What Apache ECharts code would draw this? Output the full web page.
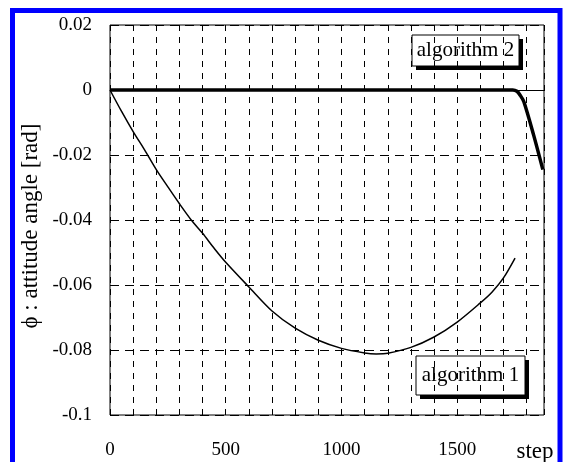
<!DOCTYPE html>
<html>
<head>
<meta charset="utf-8">
<script src="https://cdn.jsdelivr.net/npm/echarts@6/dist/echarts.min.js"></script>
<style>
    html, body { margin: 0; padding: 0; background: #fff; }
    #chart { width: 566px; height: 462px; }
</style>
</head>
<body>
<div id="chart"></div>
<script>
const steps1 = [0, 50, 100, 150, 200, 250, 300, 350, 400, 450, 500, 600, 700, 800, 900, 1000, 1100, 1150, 1200, 1300, 1400, 1500, 1600, 1650, 1700, 1750];
const phi1 = [0, -0.0066, -0.0128, -0.0185, -0.0245, -0.0298, -0.0350, -0.0399, -0.0441, -0.0487, -0.0530, -0.0606, -0.0680, -0.0733, -0.0770, -0.0795, -0.0809, -0.0812, -0.0810, -0.0792, -0.0760, -0.0714, -0.0655, -0.0622, -0.0578, -0.0517];

const steps2 = [0, 500, 1000, 1500, 1740, 1758, 1772, 1788, 1830, 1870];
const phi2 = [0, 0, 0, 0, 0, -0.0004, -0.0016, -0.0036, -0.0138, -0.0245];

const xLabels = [0, 500, 1000, 1500];

const FONT = '"Liberation Serif", "Times New Roman", serif';

function toPairs(xs, ys) {
    return xs.map((x, i) => [x, ys[i]]);
}

function labelBox(x, y, w, h, text) {
    return {
        type: "group",
        children: [
            { type: "rect", shape: { x: x + 4, y: y + 4, width: w, height: h }, style: { fill: "#000" } },
            { type: "rect", shape: { x, y, width: w, height: h }, style: { fill: "#fff", stroke: "#000", lineWidth: 1 } },
            {
                type: "text",
                x: x + w / 2,
                y: y + h / 2,
                style: { text, align: "center", verticalAlign: "middle", font: `21px ${FONT}`, fill: "#000" }
            }
        ]
    };
}

const chart = echarts.init(document.getElementById("chart"));

chart.setOption({
    animation: false,
    grid: {
        left: 110,
        top: 25,
        right: 22,
        bottom: 47,
        show: true,
        borderColor: "#000",
        borderWidth: 1
    },
    xAxis: {
        type: "value",
        min: 0,
        max: 1875,
        interval: 100,
        axisLine: { show: false },
        axisTick: { show: false },
        axisLabel: {
            margin: 26,
            color: "#000",
            fontFamily: FONT,
            fontSize: 19,
            showMaxLabel: false,
            formatter: v => xLabels.includes(v) ? String(v) : ""
        },
        splitLine: {
            show: true,
            lineStyle: { color: "#000", width: 1, type: [6, 6] }
        }
    },
    yAxis: {
        type: "value",
        min: -0.1,
        max: 0.02,
        interval: 0.02,
        axisLine: { show: false },
        axisTick: { show: false },
        axisLabel: {
            margin: 18,
            color: "#000",
            fontFamily: FONT,
            fontSize: 19,
            formatter: v => String(Number(v.toFixed(2)))
        },
        splitLine: {
            show: true,
            lineStyle: { color: "#000", width: 1, type: [9, 6] }
        }
    },
    series: [
        {
            name: "algorithm 1",
            type: "line",
            data: toPairs(steps1, phi1),
            smooth: 0.3,
            symbol: "none",
            lineStyle: { color: "#000", width: 1.5 },
            markLine: {
                silent: true,
                symbol: "none",
                label: { show: false },
                lineStyle: { color: "#000", width: 1, type: "solid" },
                data: [{ yAxis: 0 }]
            }
        },
        {
            name: "algorithm 2",
            type: "line",
            data: toPairs(steps2, phi2),
            smooth: 0.3,
            symbol: "none",
            lineStyle: { color: "#000", width: 3.5 }
        }
    ],
    graphic: [
        {
            type: "rect",
            shape: { x: 12.5, y: 10.5, width: 547.5, height: 520 },
            style: { fill: "none", stroke: "#0000ff", lineWidth: 5 }
        },
        {
            type: "text",
            x: 31,
            y: 226,
            rotation: Math.PI / 2,
            style: { text: "ϕ : attitude angle [rad]", align: "center", verticalAlign: "middle", font: `23px ${FONT}`, fill: "#000" }
        },
        {
            type: "text",
            x: 535,
            y: 452,
            style: { text: "step", align: "center", verticalAlign: "middle", font: `23px ${FONT}`, fill: "#000" }
        },
        labelBox(412, 35, 107, 31, "algorithm 2"),
        labelBox(416, 356, 109, 39, "algorithm 1")
    ]
});
</script>
</body>
</html>
